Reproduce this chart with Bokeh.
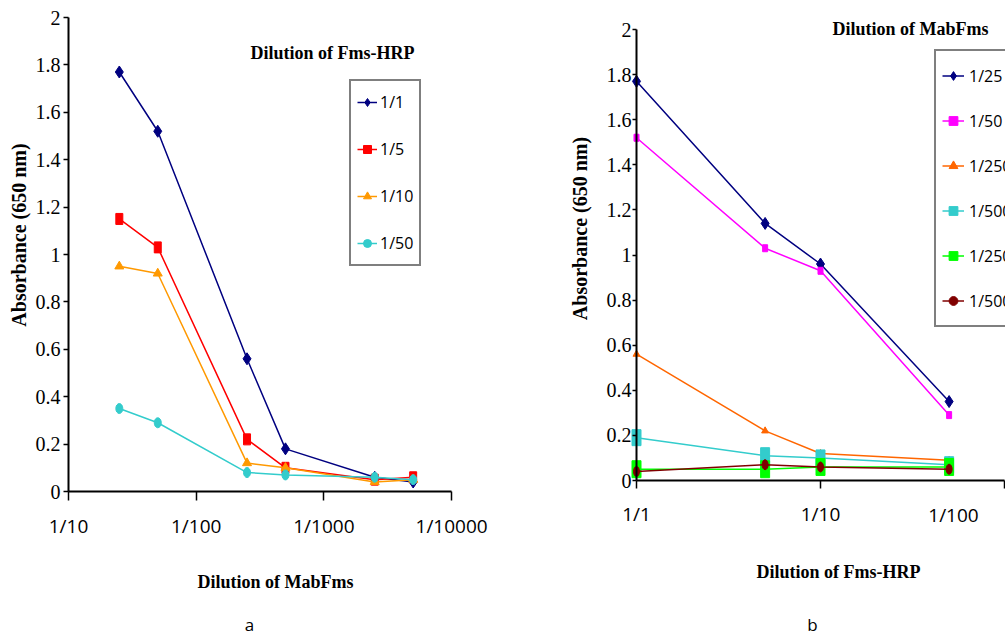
import math
from bokeh.plotting import figure
from bokeh.models import Range1d, FixedTicker, Legend, LegendItem, Label
from bokeh.layouts import row
from bokeh.embed import file_html
from bokeh.resources import INLINE

# ---------------- data: panel a ----------------
A_X = [25, 50, 250, 500, 2500, 5000]          # dilution of MabFms (1/x)
A_SERIES = ["1/1", "1/5", "1/10", "1/50"]       # dilution of Fms-HRP
A_1_1 = [1.77, 1.52, 0.56, 0.18, 0.06, 0.04]
A_1_5 = [1.15, 1.03, 0.22, 0.10, 0.05, 0.06]
A_1_10 = [0.95, 0.92, 0.12, 0.10, 0.04, 0.05]
A_1_50 = [0.35, 0.29, 0.08, 0.07, 0.06, 0.05]
A_X_TICKS = [10, 100, 1000, 10000]
A_X_LABELS = ["1/10", "1/100", "1/1000", "1/10000"]

# ---------------- data: panel b ----------------
B_X = [1, 5, 10, 50]                             # dilution of Fms-HRP (1/x)
B_SERIES = ["1/25", "1/50", "1/250", "1/500", "1/2500", "1/5000"]  # dilution of MabFms
B_1_25 = [1.77, 1.14, 0.96, 0.35]
B_1_50 = [1.52, 1.03, 0.93, 0.29]
B_1_250 = [0.56, 0.22, 0.12, 0.09]
B_1_500 = [0.19, 0.11, 0.10, 0.07]
B_1_2500 = [0.05, 0.05, 0.06, 0.06]
B_1_5000 = [0.04, 0.07, 0.06, 0.05]
B_X_TICKS = [1, 10, 100]
B_X_LABELS = ["1/1", "1/10", "1/100"]

Y_TICKS = [0, 0.2, 0.4, 0.6, 0.8, 1, 1.2, 1.4, 1.6, 1.8, 2]

SERIF = "Liberation Serif"
SANS = "Open Sans"
H = 638


def make_fig(width, x_range, y_range, x_bounds, y_axis_at, x_ticks, x_labels,
             tick_out_x, tick_out_y, y_standoff):
    p = figure(width=width, height=H, x_axis_type="log", x_range=x_range,
               y_range=y_range, output_backend="svg", toolbar_location=None,
               min_border_left=0, min_border_right=0,
               min_border_top=0, min_border_bottom=0)
    p.outline_line_color = None
    p.grid.visible = False
    p.background_fill_color = "white"
    p.border_fill_color = "white"
    # axes sit at y = 0 and at the first x tick, inside the frame
    p.xaxis.fixed_location = 0
    p.yaxis.fixed_location = y_axis_at
    p.xaxis.bounds = x_bounds
    p.yaxis.bounds = (0, 2)
    for ax in p.xaxis + p.yaxis:
        ax.axis_line_color = "black"
        ax.axis_line_width = 2
        ax.major_tick_line_color = "black"
        ax.major_tick_line_width = 1.5
        ax.minor_tick_line_color = None
        ax.major_tick_in = 0
    for ax in p.yaxis:
        ax.major_tick_out = tick_out_y
        ax.ticker = FixedTicker(ticks=Y_TICKS)
        ax.major_label_overrides = {t: f"{t:g}" for t in Y_TICKS}
        ax.major_label_text_font = SERIF
        ax.major_label_text_font_size = "20px"
        ax.major_label_text_color = "black"
        ax.major_label_standoff = y_standoff
    for ax in p.xaxis:
        ax.major_tick_out = tick_out_x
        ax.ticker = FixedTicker(ticks=x_ticks)
        ax.major_label_overrides = dict(zip(x_ticks, x_labels))
        ax.major_label_text_font = SANS
        ax.major_label_text_font_size = "19px"
        ax.major_label_text_color = "black"
        ax.major_label_standoff = 12
    return p


def add_label(p, x, y, text, font=SERIF, size="18px", bold=True, angle=0.0, baseline="middle"):
    p.add_layout(Label(x=x, y=y, x_units="screen", y_units="screen", text=text,
                       text_font=font, text_font_size=size,
                       text_font_style="bold" if bold else "normal",
                       text_align="center", text_baseline=baseline,
                       angle=angle, text_color="black"))


# ================= panel a =================
# frame = whole canvas (560 x 638); 1/10 at x=68, decade = 127.7 px; y 0 at 491, 2 at 17
pa = make_fig(560, Range1d(2.934, 2.934 * 10 ** (560 / 127.7)),
              Range1d(-(H - 491) / 237.0, 2 + 17 / 237.0),
              (10, 10000), 10, A_X_TICKS, A_X_LABELS, 9, 5, 3)

NAVY, RED, AMBER, CYAN = "#000080", "#FF0000", "#FF9900", "#33CCCC"
items_a = []

l = pa.line(A_X, A_1_1, line_color=NAVY, line_width=1.5)
m = pa.scatter(A_X, A_1_1, marker="diamond", size=12, fill_color=NAVY, line_color=NAVY)
items_a.append(LegendItem(label=A_SERIES[0], renderers=[l, m]))

l = pa.line(A_X, A_1_5, line_color=RED, line_width=1.5)
proxy = pa.scatter(A_X, A_1_5, marker="square", size=0, fill_color=RED, line_color=RED)
pa.rect(A_X, A_1_5, width=7, height=11, width_units="screen", height_units="screen",
        fill_color=RED, line_color=RED)
items_a.append(LegendItem(label=A_SERIES[1], renderers=[l, proxy]))

l = pa.line(A_X, A_1_10, line_color=AMBER, line_width=1.5)
m = pa.scatter(A_X, A_1_10, marker="triangle", size=9, fill_color=AMBER, line_color=AMBER)
items_a.append(LegendItem(label=A_SERIES[2], renderers=[l, m]))

l = pa.line(A_X, A_1_50, line_color=CYAN, line_width=1.5)
proxy = pa.scatter(A_X, A_1_50, marker="circle", size=0, fill_color=CYAN, line_color=CYAN)
pa.ellipse(A_X, A_1_50, width=7, height=10, width_units="screen", height_units="screen",
           fill_color=CYAN, line_color=CYAN)
items_a.append(LegendItem(label=A_SERIES[3], renderers=[l, proxy]))

leg_a = Legend(items=items_a, location=(349, H - 266), orientation="vertical",
               padding=6, spacing=17, glyph_width=20, glyph_height=30, label_height=30,
               label_standoff=3, margin=0,
               label_text_font=SANS, label_text_font_size="16px", label_text_color="black",
               label_text_baseline="middle",
               border_line_color="black", border_line_width=2,
               background_fill_color="white", background_fill_alpha=1)
pa.add_layout(leg_a)

add_label(pa, 332, H - 52, "Dilution of Fms-HRP")
add_label(pa, 275, H - 581, "Dilution of MabFms")
add_label(pa, 18.5, H - 234.5, "Absorbance (650 nm)", size="20px", angle=math.pi / 2)
add_label(pa, 249, H - 624, "a", font=SANS, size="17px", bold=False, baseline="alphabetic")

# ================= panel b =================
# frame = whole canvas (445 x 638, starts at x=560); 1/1 at x=636, decade = 184 px; y 0 at 480, 2 at 29
pb = make_fig(445, Range1d(10 ** (-76 / 184), 10 ** ((445 - 76) / 184)),
              Range1d(-(H - 480) / 225.5, 2 + 29 / 225.5),
              (1, 100), 1, B_X_TICKS, B_X_LABELS[:2] + [""], 8, 4, 1)

MAGENTA, ORANGE, GREEN, MAROON = "#FF00FF", "#FF6600", "#00FF00", "#800000"
items_b = []

l = pb.line(B_X, B_1_25, line_color=NAVY, line_width=1.5)
m = pb.scatter(B_X, B_1_25, marker="diamond", size=12, fill_color=NAVY, line_color=NAVY)
items_b.append(LegendItem(label=B_SERIES[0], renderers=[l, m]))

l = pb.line(B_X, B_1_50, line_color=MAGENTA, line_width=1.5)
proxy = pb.scatter(B_X, B_1_50, marker="square", size=0, fill_color=MAGENTA, line_color=MAGENTA)
pb.rect(B_X, B_1_50, width=5, height=7, width_units="screen", height_units="screen",
        fill_color=MAGENTA, line_color=MAGENTA)
items_b.append(LegendItem(label=B_SERIES[1], renderers=[l, proxy]))

l = pb.line(B_X, B_1_250, line_color=ORANGE, line_width=1.5)
m = pb.scatter(B_X, B_1_250, marker="triangle", size=7, fill_color=ORANGE, line_color=ORANGE)
items_b.append(LegendItem(label=B_SERIES[2], renderers=[l, m]))

l = pb.line(B_X, B_1_500, line_color=CYAN, line_width=1.5)
proxy = pb.scatter(B_X, B_1_500, marker="square", size=0, fill_color=CYAN, line_color=CYAN)
pb.rect(B_X, B_1_500, width=9, height=16, width_units="screen", height_units="screen",
        fill_color=CYAN, line_color=CYAN)
items_b.append(LegendItem(label=B_SERIES[3], renderers=[l, proxy]))

l = pb.line(B_X, B_1_2500, line_color=GREEN, line_width=1.5)
proxy = pb.scatter(B_X, B_1_2500, marker="square", size=0, fill_color=GREEN, line_color=GREEN)
pb.rect(B_X, B_1_2500, width=9, height=17, width_units="screen", height_units="screen",
        fill_color=GREEN, line_color=GREEN)
items_b.append(LegendItem(label=B_SERIES[4], renderers=[l, proxy]))

l = pb.line(B_X, B_1_5000, line_color=MAROON, line_width=1.5)
proxy = pb.scatter(B_X, B_1_5000, marker="circle", size=0, fill_color=MAROON, line_color=MAROON)
pb.ellipse(B_X, B_1_5000, width=6, height=10, width_units="screen", height_units="screen",
           fill_color=MAROON, line_color=MAROON)
items_b.append(LegendItem(label=B_SERIES[5], renderers=[l, proxy]))

leg_b = Legend(items=items_b, location=(934 - 560, H - 327), orientation="vertical",
               padding=6, spacing=8, glyph_width=22, glyph_height=37, label_height=37,
               label_standoff=5, margin=0,
               label_text_font=SANS, label_text_font_size="16px", label_text_color="black",
               label_text_baseline="middle",
               border_line_color="black", border_line_width=2,
               background_fill_color="white", background_fill_alpha=1)
pb.add_layout(leg_b)

add_label(pb, 910 - 560, H - 28, "Dilution of MabFms")
add_label(pb, 838 - 560, H - 571, "Dilution of Fms-HRP")
add_label(pb, 579 - 560, H - 228, "Absorbance (650 nm)", size="20px", angle=math.pi / 2)
add_label(pb, 953 - 560, H - 514, B_X_LABELS[2], font=SANS, size="19px", bold=False)
add_label(pb, 812 - 560, H - 624, "b", font=SANS, size="17px", bold=False, baseline="alphabetic")

layout = row(pa, pb)
open("out.html", "w").write(file_html(layout, INLINE))
